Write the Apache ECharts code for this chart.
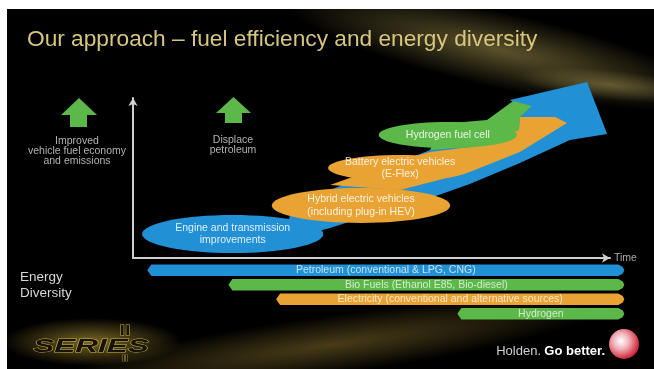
<!DOCTYPE html>
<html>
<head>
<meta charset="utf-8">
<script src="https://cdn.jsdelivr.net/npm/echarts@6/dist/echarts.min.js"></script>
<style>
  html, body { margin: 0; padding: 0; background: #fff; }
  #chart { width: 654px; height: 369px; }
</style>
</head>
<body>
<div id="chart"></div>
<script>
// ---- Approaches along the timeline (time 0–100 across, progress 0–100 up) ----
const approachNames = [
  'Engine and transmission\nimprovements',
  'Hybrid electric vehicles\n(including plug-in HEV)',
  'Battery electric vehicles\n(E-Flex)',
  'Hydrogen fuel cell'
];
const approachTime = [20.9, 47.8, 56.0, 66.0];
const approachLevel = [15.0, 32.8, 56.3, 76.9];
const approachHalfTime = [19.0, 18.7, 15.1, 14.5];
const approachHalfLevel = [11.9, 10.9, 8.1, 8.1];

// Streams that carry the approaches towards the future: [time, progress]
const petroleumStream = [
  [31.9, 11.3], [41.3, 18.8], [51.8, 28.8], [62.3, 37.5], [70.6, 46.3],
  [81.1, 59.4], [91.6, 73.8], [99.4, 77.5], [95.2, 110.0], [79.0, 98.8],
  [82.2, 92.5], [72.7, 80.0], [62.3, 67.5], [51.8, 55.0], [41.3, 42.5], [32.9, 26.9]
];
const electricStream = [
  [41.3, 45.6], [56.0, 42.5], [70.6, 53.8], [81.1, 66.3], [91.0, 84.4],
  [88.5, 88.1], [81.1, 88.1], [80.9, 80.0], [74.8, 73.8], [70.6, 69.4],
  [62.3, 66.3], [56.0, 61.3]
];
const hydrogenStream = [
  [62.3, 67.5], [64.4, 83.8], [74.2, 86.3], [79.7, 98.1], [83.6, 95.0],
  [81.1, 88.1], [80.9, 80.0], [74.8, 73.8], [70.6, 69.4]
];

// ---- Energy diversity ----
const energySources = [
  'Petroleum (conventional & LPG, CNG)',
  'Bio Fuels (Ethanol E85, Bio-diesel)',
  'Electricity (conventional and alternative sources)',
  'Hydrogen'
];
const energyStart = [3, 20, 30, 68];
const energyEnd = [103, 103, 103, 103];

// ---- Styling ----
const BLUE = '#2190d4';
const ORANGE = '#e8a333';
const GREEN = '#5cb848';
const FONT = '"Liberation Sans", Arial, sans-serif';
const approachColours = [BLUE, ORANGE, ORANGE, GREEN];
const streamColours = [BLUE, ORANGE, GREEN];
const energyColours = [BLUE, GREEN, ORANGE, GREEN];
const streams = [petroleumStream, electricStream, hydrogenStream];

const chart = echarts.init(document.getElementById('chart'), null, { renderer: 'canvas' });

function label(x, y, text, font, fill, extra) {
  return {
    type: 'text', x: x, y: y,
    style: Object.assign({ text: text, font: font, fill: fill, align: 'center', verticalAlign: 'middle' }, extra || {})
  };
}

function glow(cx, cy, r, sx, sy, rot, colour, alpha) {
  return {
    type: 'circle', x: cx, y: cy, scaleX: sx, scaleY: sy, rotation: rot, z: -5, silent: true,
    shape: { cx: 0, cy: 0, r: r },
    style: {
      fill: new echarts.graphic.RadialGradient(0.5, 0.5, 0.5, [
        { offset: 0, color: 'rgba(' + colour + ',' + alpha + ')' },
        { offset: 1, color: 'rgba(' + colour + ',0)' }
      ])
    }
  };
}

function upArrow(l, r, top, base, sl, sr, bottom) {
  const mid = (l + r) / 2;
  return {
    type: 'polygon', z: 5,
    shape: { points: [[mid, top], [r, base], [sr, base], [sr, bottom], [sl, bottom], [sl, base], [l, base]] },
    style: { fill: GREEN }
  };
}

const option = {
  backgroundColor: '#000',
  animation: false,
  grid: [
    { left: 133, right: 44, top: 98, bottom: 111 },
    { left: 133, right: 44, top: 263, height: 58 }
  ],
  xAxis: [
    {
      gridIndex: 0, type: 'value', min: 0, max: 100,
      name: 'Time', nameLocation: 'end', nameGap: 4,
      nameTextStyle: { color: '#a8a8a8', fontSize: 10.5, fontFamily: FONT },
      axisLine: { show: true, symbol: ['none', 'arrow'], symbolSize: [7, 8], lineStyle: { color: '#cfcfcf', width: 2 } },
      axisTick: { show: false }, axisLabel: { show: false }, splitLine: { show: false }
    },
    {
      gridIndex: 1, type: 'value', min: 0, max: 100, show: false
    }
  ],
  yAxis: [
    {
      gridIndex: 0, type: 'value', min: 0, max: 100,
      axisLine: { show: true, symbol: ['none', 'arrow'], symbolSize: [7, 8], lineStyle: { color: '#cfcfcf', width: 2 } },
      axisTick: { show: false }, axisLabel: { show: false }, splitLine: { show: false }
    },
    {
      gridIndex: 1, type: 'category', data: energySources, inverse: true, show: false
    }
  ],
  series: [
    {
      // diagonal streams
      type: 'custom', xAxisIndex: 0, yAxisIndex: 0, clip: false, z: 3,
      data: streams.map(function (s, i) { return [s[0][0], s[0][1], i]; }),
      renderItem: function (params, api) {
        const idx = params.dataIndex;
        return {
          type: 'polygon',
          shape: { points: streams[idx].map(function (p) { return api.coord(p); }) },
          style: { fill: streamColours[idx] }
        };
      }
    },
    {
      // approach ellipses
      type: 'custom', xAxisIndex: 0, yAxisIndex: 0, clip: false, z: 4,
      data: approachNames.map(function (n, i) {
        return [approachTime[i], approachLevel[i], approachHalfTime[i], approachHalfLevel[i]];
      }),
      renderItem: function (params, api) {
        const i = params.dataIndex;
        const c = api.coord([api.value(0), api.value(1)]);
        const s = api.size([api.value(2), api.value(3)]);
        return {
          type: 'group',
          children: [
            { type: 'ellipse', shape: { cx: c[0], cy: c[1], rx: s[0], ry: s[1] }, style: { fill: approachColours[i] } },
            {
              type: 'text', x: c[0], y: c[1],
              style: {
                text: approachNames[i], font: '10.5px ' + FONT, lineHeight: 12.5,
                fill: 'rgba(255,255,255,0.85)', align: 'center', verticalAlign: 'middle'
              }
            }
          ]
        };
      }
    },
    {
      // energy diversity bars
      type: 'custom', xAxisIndex: 1, yAxisIndex: 1, clip: false, z: 4,
      encode: { x: [1, 2], y: 0 },
      data: energySources.map(function (n, i) { return [i, energyStart[i], energyEnd[i]]; }),
      renderItem: function (params, api) {
        const i = params.dataIndex;
        const p0 = api.coord([api.value(1), api.value(0)]);
        const p1 = api.coord([api.value(2), api.value(0)]);
        const h = api.size([0, 1])[1] * 0.8;
        const yc = p0[1], top = yc - h / 2, bot = yc + h / 2;
        const x0 = p0[0], x1 = p1[0];
        return {
          type: 'group',
          children: [
            {
              type: 'polygon',
              shape: {
                points: [[x0, yc], [x0 + 4, top], [x1 - 6, top], [x1 - 1.5, top + 2.5], [x1, yc],
                         [x1 - 1.5, bot - 2.5], [x1 - 6, bot], [x0 + 4, bot]]
              },
              style: { fill: energyColours[i] }
            },
            {
              type: 'text', x: (x0 + x1) / 2, y: yc,
              style: {
                text: energySources[i], font: '10.5px ' + FONT,
                fill: 'rgba(255,255,255,0.72)', align: 'center', verticalAlign: 'middle'
              }
            }
          ]
        };
      }
    }
  ],
  graphic: [
    // warm haze
    glow(500, 50, 100, 2.2, 0.38, -0.22, '150,135,70', 0.6),
    glow(610, 85, 60, 1.6, 0.25, -0.1, '160,145,80', 0.5),
    glow(330, 345, 100, 2.8, 0.3, 0.14, '120,100,40', 0.6),
    glow(92, 342, 60, 1.5, 0.4, 0, '200,170,60', 0.6),

    // headline
    label(27, 40, 'Our approach \u2013 fuel efficiency and energy diversity', '22.7px ' + FONT, '#d6c67f', { align: 'left' }),

    // goals
    upArrow(61, 97, 98, 115, 70, 87, 127),
    upArrow(216, 251, 97, 113, 225, 242, 123),
    label(77, 151, 'Improved\nvehicle fuel economy\nand emissions', '10.5px ' + FONT, '#b3b3b3', { lineHeight: 10 }),
    label(233, 145, 'Displace\npetroleum', '10.5px ' + FONT, '#b3b3b3', { lineHeight: 10 }),

    // energy diversity heading
    label(20, 285, 'Energy\nDiversity', '13.5px ' + FONT, '#d6d6d6', { align: 'left', lineHeight: 16 }),

    // series badge
    {
      type: 'text', x: 91, y: 347, scaleX: 1.75, scaleY: 1,
      style: {
        text: 'SERIES', font: 'italic 900 18px ' + FONT, fill: '#15130a', align: 'center', verticalAlign: 'middle',
        stroke: 'rgba(225,195,80,0.85)', lineWidth: 0.8, shadowColor: 'rgba(235,200,80,1)', shadowBlur: 10
      }
    },
    {
      type: 'text', x: 125, y: 331, scaleX: 1.3,
      style: {
        text: 'II', font: '900 15px ' + FONT, fill: '#15130a', align: 'center', verticalAlign: 'middle',
        stroke: 'rgba(225,195,80,0.85)', lineWidth: 0.8, shadowColor: 'rgba(235,200,80,1)', shadowBlur: 8
      }
    },
    {
      type: 'text', x: 125, y: 359, scaleX: 1.3,
      style: {
        text: 'II', font: '900 9px ' + FONT, fill: '#15130a', align: 'center', verticalAlign: 'middle',
        stroke: 'rgba(225,195,80,0.85)', lineWidth: 0.6, shadowColor: 'rgba(235,200,80,1)', shadowBlur: 6
      }
    },

    // brand line
    {
      type: 'text', x: 605, y: 351,
      style: {
        text: '{a|Holden.} {b|Go better.}', align: 'right', verticalAlign: 'middle',
        rich: {
          a: { font: '13px ' + FONT, fill: '#cfcfcf' },
          b: { font: 'bold 13px ' + FONT, fill: '#ffffff' }
        }
      }
    },
    {
      type: 'circle', shape: { cx: 624, cy: 344, r: 15 },
      style: {
        fill: new echarts.graphic.RadialGradient(0.4, 0.4, 0.6, [
          { offset: 0, color: '#ffffff' },
          { offset: 0.45, color: '#f0b0b8' },
          { offset: 1, color: '#d0283a' }
        ])
      }
    },

    // paper margin
    { type: 'rect', z: 100, shape: { x: 0, y: 0, width: 654, height: 9 }, style: { fill: '#fff' } },
    { type: 'rect', z: 100, shape: { x: 0, y: 0, width: 7, height: 369 }, style: { fill: '#fff' } }
  ]
};

chart.setOption(option);
</script>
</body>
</html>
